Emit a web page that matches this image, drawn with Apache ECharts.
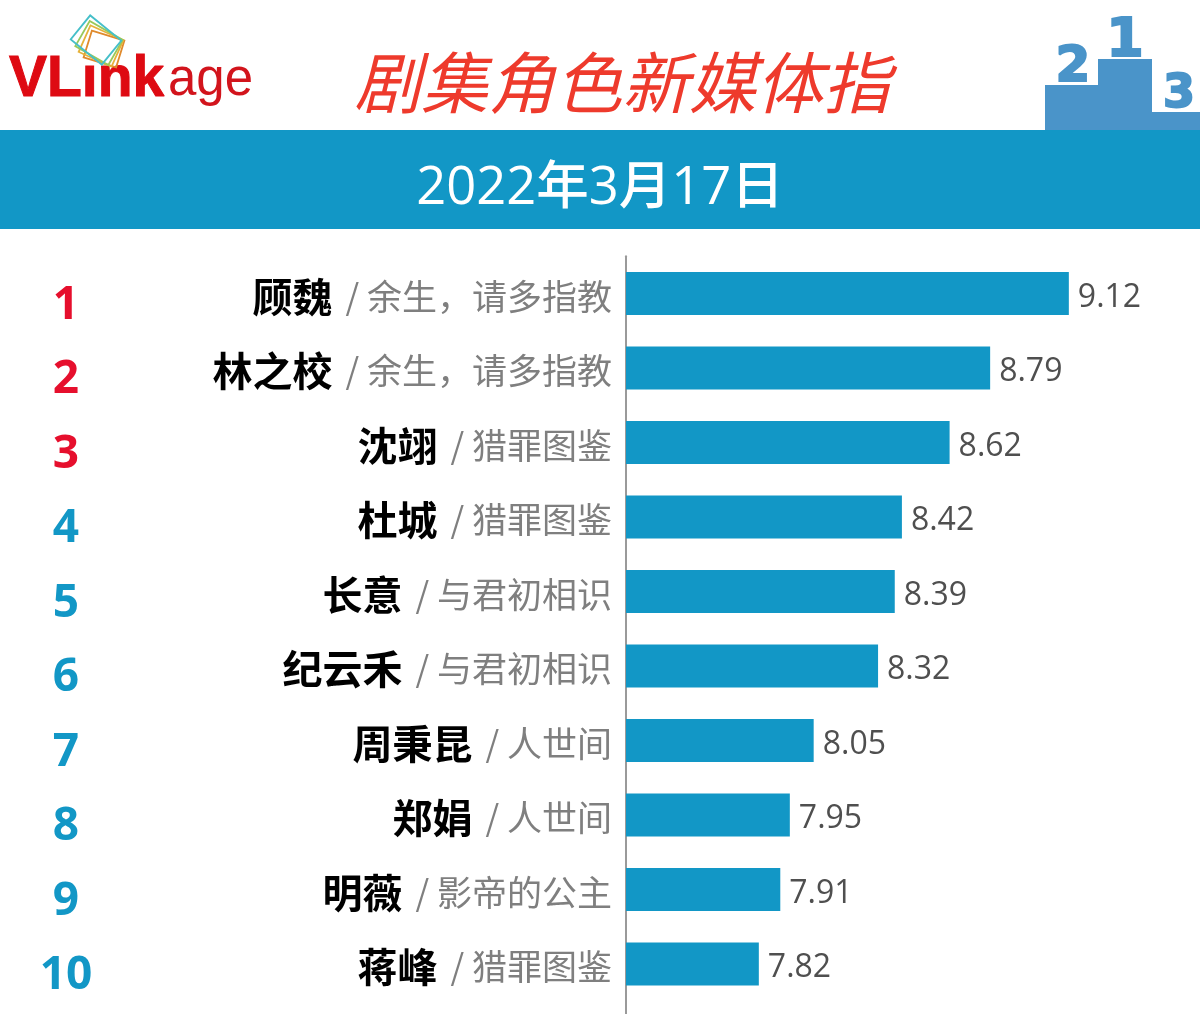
<!DOCTYPE html>
<html><head><meta charset="utf-8">
<style>html,body{margin:0;padding:0;background:#fff}#c{width:1200px;height:1014px}</style>
<script src="https://cdn.jsdelivr.net/npm/echarts@6/dist/echarts.min.js"></script>
</head><body><div id="c"></div>
<script>
const ranks = ['1','2','3','4','5','6','7','8','9','10'];
const roles = ['顾魏','林之校','沈翊','杜城','长意','纪云禾','周秉昆','郑娟','明薇','蒋峰'];
const shows = ['余生，请多指教','余生，请多指教','猎罪图鉴','猎罪图鉴','与君初相识','与君初相识','人世间','人世间','影帝的公主','猎罪图鉴'];
const values = [9.12,8.79,8.62,8.42,8.39,8.32,8.05,7.95,7.91,7.82];
const titleText = '剧集角色新媒体指';
const dateText = '2022年3月17日';
const BLUE = '#1297c6', RED = '#e60f2d';
const CJK = '"Noto Sans CJK SC","Open Sans",sans-serif';
const NUM = '"Open Sans","Noto Sans CJK SC",sans-serif';

const frame = (cx, cy, w, h, rot, color) => ({
  type:'rect', x:cx, y:cy, rotation:rot,
  shape:{x:-w/2,y:-h/2,width:w,height:h},
  style:{fill:'none',stroke:color,lineWidth:1.8}, silent:true
});
const poly = (points, fill) => ({type:'polygon',shape:{points},style:{fill},silent:true});
const txt = (x,y,text,font,fill,extra) => ({type:'text',x,y,style:Object.assign({text,font,fill,textVerticalAlign:'middle'},extra||{}),silent:true});

const chart = echarts.init(document.getElementById('c'),null,{renderer:'canvas'});
chart.setOption({
  animation:false,
  backgroundColor:'#fff',
  title:[{
    text:titleText,left:354,top:43,padding:0,
    textStyle:{color:'#ee3a2c',fontSize:67,fontStyle:'italic',fontWeight:400,fontFamily:CJK,lineHeight:80}
  },{
    text:dateText,left:'center',top:156,padding:0,
    textStyle:{color:'#fff',fontSize:52.5,fontWeight:500,fontFamily:NUM,lineHeight:66}
  }],
  grid:{left:626,right:0,top:256.25,height:745},
  xAxis:{type:'value',min:7.263,max:9.67,show:false},
  yAxis:[{
    type:'category',inverse:true,data:roles,position:'left',
    axisLine:{show:true,lineStyle:{color:'#9a9a9a',width:2}},
    axisTick:{show:false},
    axisLabel:{
      margin:14,interval:0,align:'right',padding:[6,0,0,0],
      formatter:(v,i)=>`{n|${v}}{s| / ${shows[i]}}`,
      rich:{
        n:{fontSize:40,fontWeight:700,color:'#000',fontFamily:CJK,lineHeight:50,padding:[0,5,0,0]},
        s:{fontSize:35,color:'#7f7f7f',fontWeight:400,fontFamily:CJK,lineHeight:50}
      }
    }
  },{
    type:'category',inverse:true,data:ranks,position:'left',offset:0,
    axisLine:{show:false},axisTick:{show:false},
    axisLabel:{
      margin:560,interval:0,align:'center',verticalAlign:'top',lineHeight:24,
      fontSize:46,fontWeight:700,fontFamily:NUM,
      color:(v,i)=>i<3?RED:BLUE
    }
  }],
  series:[{
    type:'bar',yAxisIndex:0,data:values,barWidth:43,
    itemStyle:{color:BLUE},
    label:{show:true,position:'right',distance:9,offset:[0,4],color:'#4f4f4f',fontSize:32,fontFamily:NUM,formatter:p=>p.value.toFixed(2)}
  }],
  graphic:{elements:[
    {type:'rect',z:-1,shape:{x:0,y:130,width:1200,height:99},style:{fill:BLUE},silent:true},
    {type:'line',shape:{x1:626,y1:1000,x2:626,y2:1014},style:{stroke:'#9a9a9a',lineWidth:2},silent:true},
    // logo
    txt(9,80,'VLınk','900 57px "Liberation Sans",Arial,sans-serif','#de0a12',{stroke:'#de0a12',lineWidth:1}),
    txt(168,81,'age','51px "Liberation Sans",Arial,sans-serif','#d2141c'),
    frame(104,49,34,28,-0.30,'#e08a2c'),
    frame(101,46,36,29,-0.42,'#e6b23a'),
    frame(99,43,38,29,-0.52,'#9ac95a'),
    frame(96,40,40,31,-0.68,'#45bfc9'),
    // podium
    poly([[1045,130],[1045,85],[1098,85],[1098,59],[1152,59],[1152,112],[1200,112],[1200,130]],'#4a94c9'),
    txt(1125,42,'1','900 54px "DejaVu Sans",sans-serif','#4a94c9',{textAlign:'center',stroke:'#4a94c9',lineWidth:2}),
    txt(1073,68,'2','900 50px "DejaVu Sans",sans-serif','#4a94c9',{textAlign:'center',stroke:'#4a94c9',lineWidth:2}),
    txt(1179,95,'3','900 46px "DejaVu Sans",sans-serif','#4a94c9',{textAlign:'center',stroke:'#4a94c9',lineWidth:2})
  ]}
});
</script></body></html>
